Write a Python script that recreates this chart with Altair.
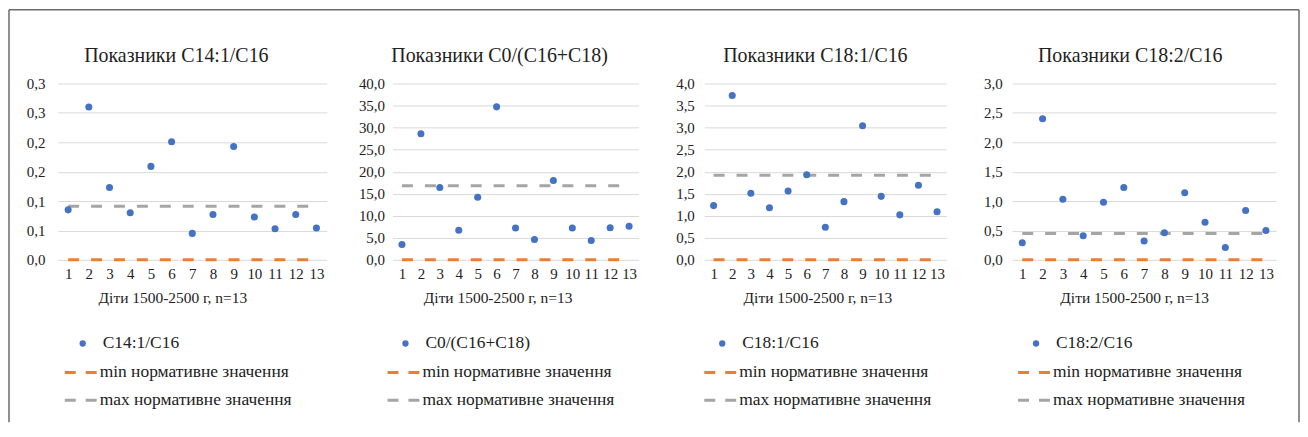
import json
import altair as alt
import pandas as pd

# ---------------- data ----------------
idx = list(range(1, 14))

c14_1 = [0.085, 0.260, 0.123, 0.080, 0.159, 0.201, 0.045, 0.077, 0.193, 0.073, 0.053, 0.077, 0.054]
c0 = [3.5, 28.6, 16.4, 6.7, 14.2, 34.7, 7.2, 4.6, 18.0, 7.2, 4.4, 7.3, 7.6]
c18_1 = [1.23, 3.73, 1.51, 1.18, 1.56, 1.93, 0.74, 1.32, 3.04, 1.44, 1.02, 1.69, 1.09]
c18_2 = [0.29, 2.40, 1.03, 0.41, 0.98, 1.23, 0.32, 0.46, 1.14, 0.64, 0.21, 0.84, 0.50]
series_values = [c14_1, c0, c18_1, c18_2]

titles = ["Показники C14:1/C16", "Показники C0/(C16+C18)",
          "Показники C18:1/C16", "Показники C18:2/C16"]
series_names = ["C14:1/C16", "C0/(C16+C18)", "C18:1/C16", "C18:2/C16"]
min_norm = [0, 0, 0, 0]
max_norm = [0.091, 16.8, 1.92, 0.45]

y_max = [0.30, 40, 4.0, 3.0]
y_step = [0.05, 5, 0.5, 0.5]
y_tick_labels = [
    ["0,0", "0,1", "0,1", "0,2", "0,2", "0,3", "0,3"],
    ["0,0", "5,0", "10,0", "15,0", "20,0", "25,0", "30,0", "35,0", "40,0"],
    ["0,0", "0,5", "1,0", "1,5", "2,0", "2,5", "3,0", "3,5", "4,0"],
    ["0,0", "0,5", "1,0", "1,5", "2,0", "2,5", "3,0"],
]
x_title = "Діти 1500-2500 г, n=13"
legend_min = "min нормативне значення"
legend_max = "max нормативне значення"

# ---------------- style ----------------
BLUE = "#4472C4"
ORANGE = "#ED7D31"
GRAY = "#A5A5A5"
TXT = "#222222"
FONT = "Liberation Serif"
widths = [270, 247, 243, 265]
HEIGHT = 177
title_dx = [-16, -16, -10, -14]
xtitle_dx = [-20, -18, -8, -10]
legend_dx = [7, -5, 0, 6]
y_label_pad = [13, 8, 10, 10]
LEG_Y = [261, 290, 318]
TITLE_Y = -28
LEG_FS = 17.5


def panel(i):
    w = widths[i]
    df = pd.DataFrame({"n": idx, "v": series_values[i]})
    dmin = pd.DataFrame({"n": idx, "v": [min_norm[i]] * len(idx)})
    dmax = pd.DataFrame({"n": idx, "v": [max_norm[i]] * len(idx)})
    nt = len(y_tick_labels[i])
    ticks = [round(k * y_step[i], 6) for k in range(nt)]
    label_expr = f"{json.dumps(y_tick_labels[i])}[round(datum.value / {y_step[i]})]"

    x = alt.X("n:O", scale=alt.Scale(domain=idx, paddingInner=0, paddingOuter=0),
              axis=alt.Axis(title=x_title, labelAngle=0, ticks=False, domain=False,
                            grid=False, labelPadding=7, titlePadding=9,
                            titleX=w / 2 + xtitle_dx[i], titleAlign="center",
                            labelFontSize=15, titleFontSize=15.5,
                            labelFont=FONT, titleFont=FONT))
    y = alt.Y("v:Q", scale=alt.Scale(domain=[0, y_max[i]], nice=False, zero=True),
              axis=alt.Axis(title=None, values=ticks, labelExpr=label_expr, grid=True,
                            gridColor="#d9d9d9", gridWidth=1, ticks=False, domain=False,
                            labelPadding=y_label_pad[i], labelFontSize=15, labelFont=FONT))

    l_min = alt.Chart(dmin).mark_line(color=ORANGE, strokeWidth=3, strokeDash=[11, 12]).encode(x=x, y=y)
    l_max = alt.Chart(dmax).mark_line(color=GRAY, strokeWidth=3, strokeDash=[11, 12]).encode(x=x, y=y)
    pts = alt.Chart(df).mark_circle(size=50, color=BLUE, opacity=1).encode(x=x, y=y)

    ttl = alt.Chart(pd.DataFrame({"label": [titles[i]]})).mark_text(
        align="center", baseline="middle", fontSize=20, font=FONT, color=TXT).encode(
        x=alt.value(w / 2 + title_dx[i]), y=alt.value(TITLE_Y), text="label:N")

    ld = legend_dx[i]
    lg_pt = alt.Chart(pd.DataFrame({"label": [series_names[i]]})).mark_circle(
        size=40, color=BLUE, opacity=1).encode(x=alt.value(ld + 18), y=alt.value(LEG_Y[0]))
    lg_pt_t = alt.Chart(pd.DataFrame({"label": [series_names[i]]})).mark_text(
        align="left", baseline="middle", fontSize=LEG_FS, font=FONT, color=TXT).encode(
        x=alt.value(ld + 38), y=alt.value(LEG_Y[0]), text="label:N")
    lg_min = alt.Chart(pd.DataFrame({"label": [legend_min]})).mark_rule(
        color=ORANGE, strokeWidth=3, strokeDash=[11, 10]).encode(
        x=alt.value(ld), x2=alt.value(ld + 32), y=alt.value(LEG_Y[1]))
    lg_min_t = alt.Chart(pd.DataFrame({"label": [legend_min]})).mark_text(
        align="left", baseline="middle", fontSize=LEG_FS, font=FONT, color=TXT).encode(
        x=alt.value(ld + 35), y=alt.value(LEG_Y[1]), text="label:N")
    lg_max = alt.Chart(pd.DataFrame({"label": [legend_max]})).mark_rule(
        color=GRAY, strokeWidth=3, strokeDash=[11, 10]).encode(
        x=alt.value(ld), x2=alt.value(ld + 32), y=alt.value(LEG_Y[2]))
    lg_max_t = alt.Chart(pd.DataFrame({"label": [legend_max]})).mark_text(
        align="left", baseline="middle", fontSize=LEG_FS, font=FONT, color=TXT).encode(
        x=alt.value(ld + 35), y=alt.value(LEG_Y[2]), text="label:N")

    layers = [l_min, l_max, pts, ttl, lg_pt, lg_pt_t, lg_min, lg_min_t, lg_max, lg_max_t]

    if i == 0:
        one = pd.DataFrame({"a": [0]})
        bcol = "#6b6b6b"
        layers += [
            alt.Chart(one).mark_rule(color=bcol, strokeWidth=1.5).encode(
                x=alt.value(-49), y=alt.value(-74), y2=alt.value(340)),
            alt.Chart(one).mark_rule(color=bcol, strokeWidth=1.5).encode(
                x=alt.value(-49), x2=alt.value(1246), y=alt.value(-74)),
            alt.Chart(one).mark_rule(color=bcol, strokeWidth=1.5).encode(
                x=alt.value(1246), y=alt.value(-74), y2=alt.value(340)),
        ]

    return alt.layer(*layers).properties(width=w, height=HEIGHT)


chart = alt.hconcat(*[panel(i) for i in range(4)], spacing=66, bounds="flush").properties(
    padding=0, background="white"
).configure(font=FONT).configure_view(stroke=None).configure_axis(
    labelFont=FONT, titleFont=FONT, labelColor=TXT, titleColor=TXT, titleFontWeight="normal"
).configure_text(font=FONT)

chart.save("out.html", embed_options={"renderer": "svg", "actions": False})
